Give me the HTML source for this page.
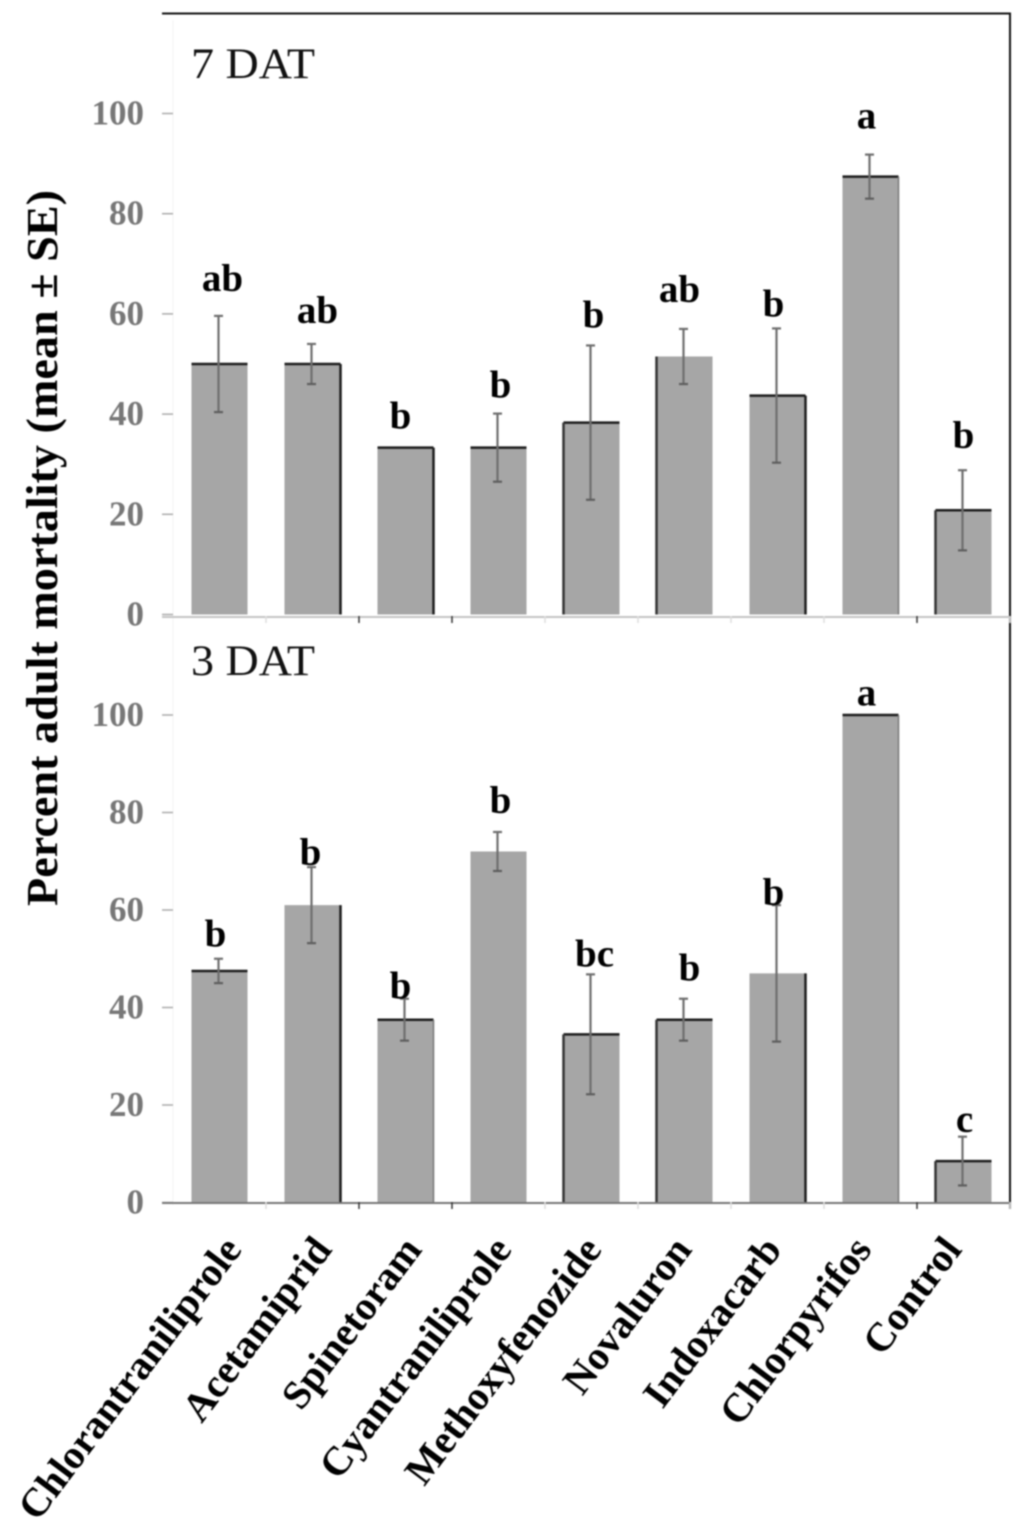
<!DOCTYPE html>
<html lang="en">
<head>
<meta charset="utf-8">
<title>Percent adult mortality chart</title>
<style>
html,body{margin:0;padding:0;background:#fff;width:1024px;height:1525px;overflow:hidden}
svg{display:block;font-family:"Liberation Serif",serif;filter:blur(0.7px)}
</style>
</head>
<body>
<svg id="chart" xmlns="http://www.w3.org/2000/svg" width="1024" height="1525" viewBox="0 0 1024 1525">
  <rect x="0" y="0" width="1024" height="1525" fill="#fff"/>
  <line x1="162" y1="13.5" x2="1011" y2="13.5" stroke="#111" stroke-width="2"/>
  <line x1="1010" y1="13" x2="1010" y2="1209" stroke="#111" stroke-width="2"/>
  <line x1="173" y1="20" x2="173" y2="1205" stroke="#f4f4f4" stroke-width="1"/>
  <text transform="translate(57,548) rotate(-90)" text-anchor="middle" font-size="44" font-weight="bold" fill="#000" textLength="716" lengthAdjust="spacingAndGlyphs">Percent adult mortality (mean ± SE)</text>
  <text x="191" y="78" font-size="43" fill="#111" textLength="124" lengthAdjust="spacingAndGlyphs">7 DAT</text>
  <text x="191" y="675" font-size="43" fill="#111" textLength="124" lengthAdjust="spacingAndGlyphs">3 DAT</text>
  <g id="marks"></g>
</svg>
<script>
const categories = ["Chlorantraniliprole","Acetamiprid","Spinetoram","Cyantraniliprole","Methoxyfenozide","Novaluron","Indoxacarb","Chlorpyrifos","Control"];
const tickLabels = [0,20,40,60,80,100];
const meanDay7 = [50,50,33.3,33.3,38.3,51.5,43.7,87.4,20.8];
const seDay7 = [9.6,4,0,6.8,15.4,5.5,13.4,4.4,8];
const lettersDay7 = ["ab","ab","b","b","b","ab","b","a","b"];
const letterLiftDay7 = [5,4.2,3.8,3.2,3.6,5.4,2.4,5.2,4.4];
const meanDay3 = [47.5,61,37.5,72,34.5,37.5,47,100,8.5];
const seDay3 = [2.5,7.8,4.3,4,12.3,4.3,14,0,5];
const lettersDay3 = ["b","b","b","b","bc","b","b","a","c"];
const letterLiftDay3 = [2.5,0.4,0,3.9,1.6,3.7,0,2,1];

const svgNS = "http://www.w3.org/2000/svg";
const marks = document.getElementById("marks");

const yDay7 = v => 614.5 - v * 5.01;
const yDay3 = v => 1202.5 - v * 4.875;
const bandLeft = i => 173 + i * 93;
const barLeft = i => 191.5 + i * 93;
const errorX = i => 218.5 + i * 93;
const barWidth = 56;

function node(tag, attrs, parent) {
  const el = document.createElementNS(svgNS, tag);
  for (const k in attrs) el.setAttribute(k, attrs[k]);
  parent.appendChild(el);
  return el;
}

function drawPanel(panelName, y, means, ses, letters, lifts, edges, axisY, axisColor, nudges) {
  const group = node("g", {}, marks);
  
  

  tickLabels.forEach(t => {
    const label = node("text", {x: 144, y: y(t) + 11, "text-anchor": "end", "font-size": 35, "font-weight": "bold", fill: "#777"}, group);
    
    
    label.textContent = t;
    const tick = node("line", {x1: 162, x2: 173, y1: y(t), y2: y(t), stroke: "#aaa", "stroke-width": 1.5}, group);
    
    
  });

  means.forEach((m, i) => {
    const x = barLeft(i);
    const top = y(m);
    const bottom = y(0);
    const bar = node("rect", {x: x, y: top, width: barWidth, height: bottom - top, fill: "#a6a6a6"}, group);
    
    

    const e = edges[i];
    if (e.includes("T")) {
      const edge = node("line", {x1: x, x2: x + barWidth, y1: top, y2: top, stroke: "#1c1c1c", "stroke-width": 2.5}, group);
      
      
    }
    if (e.includes("L")) {
      const edge = node("line", {x1: x, x2: x, y1: top, y2: bottom, stroke: "#333", "stroke-width": 2.5}, group);
      
      
    }
    if (e.includes("R")) {
      const edge = node("line", {x1: x + barWidth, x2: x + barWidth, y1: top, y2: bottom, stroke: "#1c1c1c", "stroke-width": 2.5}, group);
      
      
    }
    if (e.includes("r")) {
      const edge = node("line", {x1: x + barWidth, x2: x + barWidth, y1: top, y2: bottom, stroke: "#777", "stroke-width": 1.5}, group);
      
      
    }

    const ex = errorX(i);
    const se = ses[i];
    if (se > 0) {
      const stem = node("line", {x1: ex, x2: ex, y1: y(m + se), y2: y(m - se), stroke: "#6e6e6e", "stroke-width": 2.2}, group);
      
      
      const capHi = node("line", {x1: ex - 4.5, x2: ex + 4.5, y1: y(m + se), y2: y(m + se), stroke: "#6e6e6e", "stroke-width": 2.2}, group);
      
      
      const capLo = node("line", {x1: ex - 4.5, x2: ex + 4.5, y1: y(m - se), y2: y(m - se), stroke: "#5e5e5e", "stroke-width": 2.2}, group);
      
      
    }

    const letter = node("text", {x: ex + nudges[i], y: y(m + se + lifts[i]), "text-anchor": "middle", "font-size": 39, "font-weight": "bold", fill: "#000"}, group);
    
    
    letter.textContent = letters[i];
  });

  const axis = node("line", {x1: 162, x2: 1010, y1: axisY, y2: axisY, stroke: axisColor, "stroke-width": 2}, group);
  
  

  for (let i = 1; i <= categories.length; i++) {
    const tx = bandLeft(i);
    const tick = node("line", {x1: tx, x2: tx, y1: axisY - 1, y2: axisY + 6, stroke: (i === 2 || i === 3 || i === 8) ? "#333" : "#ddd", "stroke-width": 1.5}, group);
    
    
  }
}

const edgesDay7 = ["T","TR","TR","T","LT","L","TR","Tr","LT"];
const edgesDay3 = ["T","R","Tr","","LT","LT","R","Tr","LT"];
const nudgesDay7 = [4,6,-4,3,3,-4,-3,-3,1];
const nudgesDay3 = [-3,-1,-4,3,4,6,-3,-3,2];

drawPanel("seven-dat", yDay7, meanDay7, seDay7, lettersDay7, letterLiftDay7, edgesDay7, 617, "#c4c4c4", nudgesDay7);
drawPanel("three-dat", yDay3, meanDay3, seDay3, lettersDay3, letterLiftDay3, edgesDay3, 1203, "#777", nudgesDay3);

categories.forEach((name, i) => {
  const ax = 243 + i * 90;
  const label = node("text", {transform: "translate(" + ax + ",1250) rotate(-53)", "text-anchor": "end", "font-size": 40.5, "font-weight": "bold", fill: "#000"}, marks);
  
  
  label.textContent = name;
});
</script>
</body>
</html>
